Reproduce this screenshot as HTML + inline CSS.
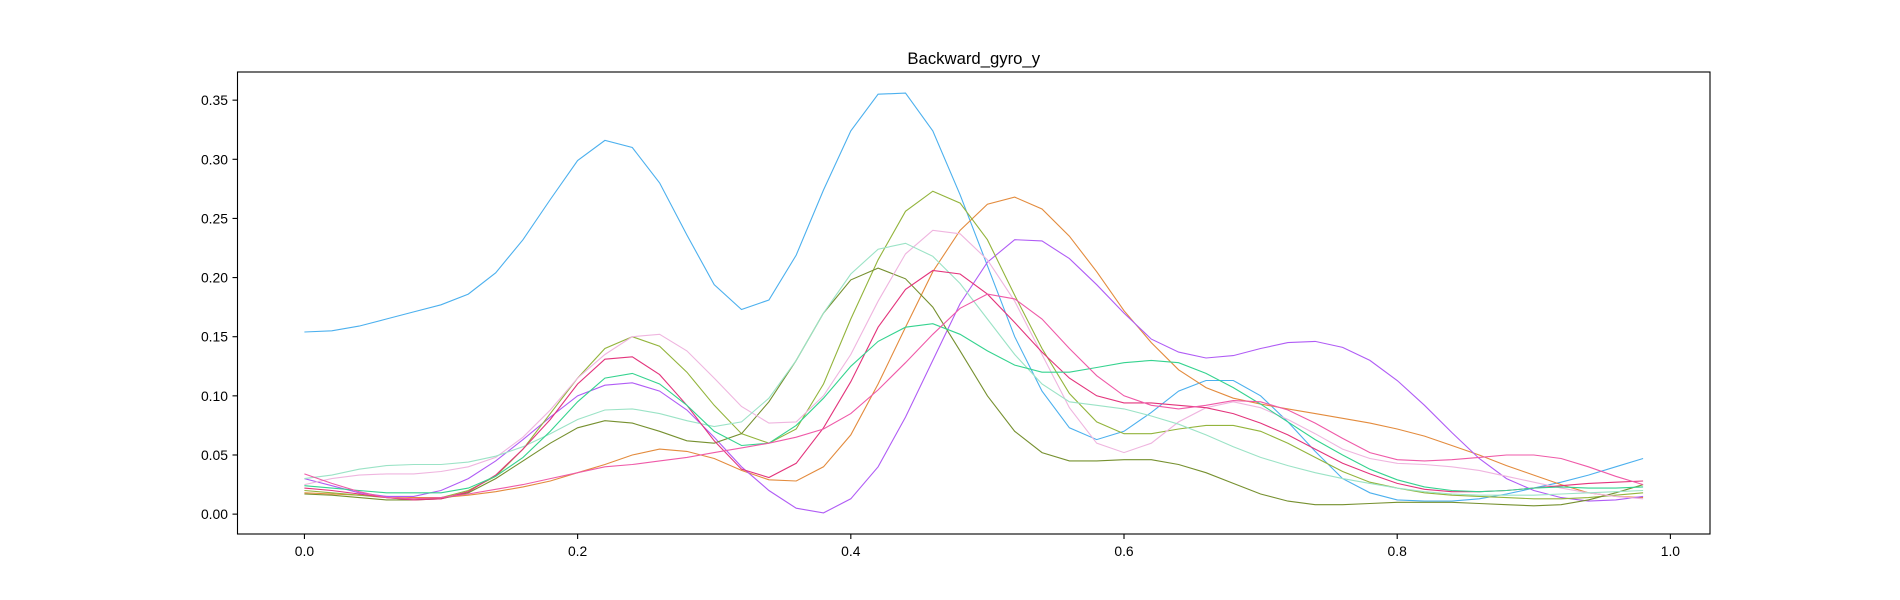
<!DOCTYPE html>
<html><head><meta charset="utf-8"><style>
body{margin:0;background:#fff;}
svg{display:block;font-family:"Liberation Sans","DejaVu Sans",sans-serif;}
</style></head><body>
<svg id="chart" width="1900" height="600">
<rect x="0" y="0" width="1900" height="600" fill="#fff"/>
<text x="973.75" y="64" font-size="16.7" text-anchor="middle">Backward_gyro_y</text>
<g id="lines"></g>
<rect x="237.5" y="72" width="1472.5" height="462" fill="none" stroke="#000" stroke-width="1.1"/>
<g id="xaxis"></g>
<g id="yaxis"></g>
</svg>
<script>
const xTicks=[0,0.2,0.4,0.6,0.8,1.0];
const xTickLabels=["0.0","0.2","0.4","0.6","0.8","1.0"];
const yTicks=[0,0.05,0.1,0.15,0.2,0.25,0.3,0.35];
const yTickLabels=["0.00","0.05","0.10","0.15","0.20","0.25","0.30","0.35"];
const seriesNames=["blue","orange","purple","olive-light","olive-dark","pink-light","mint","crimson","teal","hot-pink"];
const seriesColors=["#4cb0ee","#e38b3d","#b05cf5","#93b43c","#76902f","#efb5df","#9be3c6","#e3347c","#35d38f","#ef5aa8"];
const sBlue=[0.154,0.155,0.159,0.165,0.171,0.177,0.186,0.204,0.232,0.266,0.299,0.316,0.310,0.280,0.236,0.194,0.173,0.181,0.219,0.274,0.324,0.355,0.356,0.324,0.270,0.210,0.150,0.104,0.073,0.063,0.070,0.086,0.104,0.113,0.113,0.100,0.078,0.053,0.030,0.018,0.012,0.011,0.011,0.013,0.017,0.022,0.027,0.033,0.040,0.047];
const sOrange=[0.018,0.017,0.016,0.015,0.014,0.014,0.016,0.019,0.023,0.028,0.035,0.042,0.050,0.055,0.053,0.047,0.037,0.029,0.028,0.040,0.067,0.110,0.158,0.205,0.240,0.262,0.268,0.258,0.235,0.205,0.172,0.145,0.122,0.107,0.098,0.093,0.089,0.085,0.081,0.077,0.072,0.066,0.058,0.050,0.041,0.033,0.025,0.018,0.015,0.014];
const sPurple=[0.030,0.024,0.018,0.015,0.015,0.020,0.030,0.045,0.063,0.082,0.100,0.109,0.111,0.104,0.088,0.065,0.040,0.020,0.005,0.001,0.013,0.040,0.082,0.130,0.178,0.213,0.232,0.231,0.216,0.194,0.170,0.148,0.137,0.132,0.134,0.140,0.145,0.146,0.141,0.130,0.113,0.092,0.069,0.047,0.030,0.020,0.014,0.011,0.012,0.015];
const sOliveLight=[0.020,0.018,0.016,0.014,0.012,0.014,0.020,0.032,0.055,0.085,0.115,0.140,0.150,0.142,0.120,0.092,0.068,0.060,0.072,0.110,0.165,0.215,0.256,0.273,0.263,0.232,0.185,0.140,0.102,0.078,0.068,0.068,0.072,0.075,0.075,0.070,0.060,0.048,0.036,0.027,0.022,0.018,0.016,0.015,0.014,0.013,0.013,0.014,0.016,0.018];
const sOliveDark=[0.017,0.016,0.014,0.012,0.012,0.013,0.018,0.030,0.045,0.060,0.073,0.079,0.077,0.070,0.062,0.060,0.068,0.095,0.130,0.170,0.198,0.208,0.199,0.175,0.138,0.100,0.070,0.052,0.045,0.045,0.046,0.046,0.042,0.035,0.026,0.017,0.011,0.008,0.008,0.009,0.010,0.010,0.010,0.009,0.008,0.007,0.008,0.012,0.018,0.025];
const sPinkLight=[0.025,0.030,0.033,0.034,0.034,0.036,0.040,0.048,0.065,0.088,0.115,0.135,0.150,0.152,0.138,0.115,0.091,0.077,0.078,0.100,0.135,0.180,0.220,0.240,0.237,0.215,0.180,0.135,0.090,0.060,0.052,0.060,0.078,0.090,0.095,0.090,0.080,0.068,0.055,0.047,0.043,0.042,0.040,0.037,0.032,0.027,0.022,0.018,0.015,0.013];
const sMint=[0.030,0.033,0.038,0.041,0.042,0.042,0.044,0.049,0.057,0.068,0.080,0.088,0.089,0.085,0.079,0.074,0.078,0.098,0.130,0.170,0.203,0.224,0.229,0.218,0.195,0.165,0.135,0.110,0.095,0.092,0.089,0.083,0.076,0.067,0.057,0.048,0.041,0.035,0.030,0.026,0.022,0.019,0.017,0.016,0.016,0.016,0.017,0.018,0.019,0.020];
const sCrimson=[0.022,0.020,0.017,0.014,0.012,0.013,0.019,0.033,0.055,0.080,0.110,0.131,0.133,0.118,0.092,0.062,0.038,0.031,0.043,0.073,0.112,0.158,0.190,0.206,0.203,0.186,0.162,0.137,0.115,0.100,0.094,0.094,0.092,0.090,0.085,0.077,0.067,0.055,0.043,0.034,0.026,0.021,0.019,0.019,0.020,0.022,0.024,0.026,0.027,0.028];
const sTeal=[0.024,0.022,0.020,0.018,0.018,0.018,0.022,0.032,0.048,0.070,0.095,0.115,0.119,0.110,0.092,0.070,0.058,0.060,0.075,0.098,0.125,0.146,0.158,0.161,0.152,0.138,0.126,0.120,0.120,0.124,0.128,0.130,0.128,0.119,0.107,0.093,0.078,0.063,0.050,0.038,0.029,0.023,0.020,0.019,0.020,0.022,0.023,0.022,0.022,0.023];
const sHotPink=[0.034,0.026,0.019,0.014,0.013,0.014,0.017,0.021,0.025,0.030,0.035,0.040,0.042,0.045,0.048,0.052,0.056,0.060,0.065,0.072,0.085,0.105,0.128,0.152,0.174,0.186,0.182,0.165,0.140,0.117,0.100,0.092,0.089,0.092,0.096,0.095,0.088,0.077,0.064,0.052,0.046,0.045,0.046,0.048,0.050,0.050,0.047,0.040,0.032,0.025];
const allSeries=[sBlue,sOrange,sPurple,sOliveLight,sOliveDark,sPinkLight,sMint,sCrimson,sTeal,sHotPink];

const NS="http://www.w3.org/2000/svg";
const X0=-0.049,X1=1.029,Y0=-0.0168,Y1=0.3738;
function xs(v){return 237.5+(v-X0)/(X1-X0)*1472.5;}
function ys(v){return 534-(v-Y0)/(Y1-Y0)*462;}
function mk(t,a){const e=document.createElementNS(NS,t);for(const k in a)e.setAttribute(k,a[k]);return e;}
const xa=document.getElementById('xaxis'),ya=document.getElementById('yaxis'),lg=document.getElementById('lines');
xTicks.forEach((v,i)=>{
  const t=mk('line',{x1:xs(v),x2:xs(v),y1:534,y2:539,stroke:'#000','stroke-width':1.1});
  
  
  xa.appendChild(t);
  const l=mk('text',{x:xs(v),y:556,'font-size':13.9,'text-anchor':'middle'});
  
  
  l.textContent=xTickLabels[i];xa.appendChild(l);
});
yTicks.forEach((v,i)=>{
  const t=mk('line',{x1:232.5,x2:237.5,y1:ys(v),y2:ys(v),stroke:'#000','stroke-width':1.1});
  
  
  ya.appendChild(t);
  const l=mk('text',{x:228,y:ys(v)+5,'font-size':13.9,'text-anchor':'end'});
  
  
  l.textContent=yTickLabels[i];ya.appendChild(l);
});
allSeries.forEach((s,k)=>{
  const pts=s.map((v,i)=>xs(i*0.02).toFixed(1)+','+ys(v).toFixed(1)).join(' ');
  const p=mk('polyline',{points:pts,fill:'none',stroke:seriesColors[k],'stroke-width':1.1});
  
  
  lg.appendChild(p);
});
</script>
</body></html>
